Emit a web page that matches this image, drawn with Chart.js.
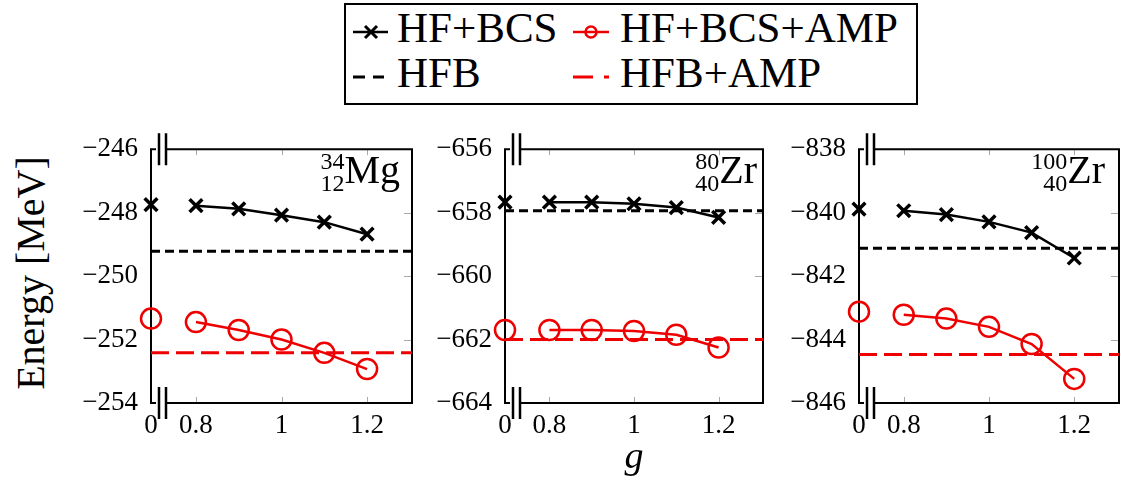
<!DOCTYPE html>
<html lang="en">
<head>
<meta charset="UTF-8">
<title>Energy vs g</title>
<style>
    body { margin: 0; background: #fff; width: 1121px; height: 484px; position: relative; overflow: hidden; font-family: 'Liberation Serif', 'Times New Roman', 'DejaVu Serif', serif; color: #000; }
    canvas { position: absolute; }
    .txt { position: absolute; white-space: nowrap; }
    .leg { font-size: 43px; line-height: 43px; }
    .nuc { position: absolute; display: flex; align-items: flex-start; white-space: nowrap; }
    .nuc .ss { display: flex; flex-direction: column; align-items: flex-end; font-size: 24px; line-height: 22px; }
    .nuc .el { font-size: 40px; line-height: 40px; }
</style>
</head>
<body>
    <canvas id="c1" width="355" height="330" style="left:61px;top:120px"></canvas>
    <canvas id="c2" width="352" height="330" style="left:415px;top:120px"></canvas>
    <canvas id="c3" width="352" height="330" style="left:769px;top:120px"></canvas>

    <!-- legend -->
    <svg width="1121" height="110" style="position:absolute;left:0;top:0">
        <rect x="345" y="4" width="572" height="100" fill="#fff" stroke="#000" stroke-width="2"/>
        <line x1="353" y1="32" x2="388" y2="32" stroke="#000" stroke-width="2.5"/>
        <path d="M365 26 L377 38 M365 38 L377 26" stroke="#000" stroke-width="3"/>
        <line x1="573" y1="32" x2="609" y2="32" stroke="#ee0000" stroke-width="2.5"/>
        <circle cx="591" cy="32" r="5.5" fill="none" stroke="#ee0000" stroke-width="2.5"/>
        <path d="M353 77 L365 77 M373 77 L384 77" stroke="#000" stroke-width="3"/>
        <path d="M573 77 L593 77 M604 77 L609 77" stroke="#ee0000" stroke-width="3"/>
    </svg>
    <div class="txt leg" style="left:397px;top:6px">HF+BCS</div>
    <div class="txt leg" style="left:620px;top:6px">HF+BCS+AMP</div>
    <div class="txt leg" style="left:397px;top:51px">HFB</div>
    <div class="txt leg" style="left:620px;top:51px">HFB+AMP</div>

    <!-- axis titles -->
    <div class="txt" style="left:31px;top:273px;font-size:40px;line-height:40px;transform:translate(-50%,-50%) rotate(-90deg)">Energy [MeV]</div>
    <div class="txt" style="left:634px;top:436px;font-size:38px;line-height:38px;font-style:italic;transform:translateX(-50%)">g</div>

    <!-- nucleus labels -->
    <div class="nuc" style="right:721px;top:150px"><span class="ss"><span>34</span><span>12</span></span><span class="el">Mg</span></div>
    <div class="nuc" style="right:364px;top:150px"><span class="ss"><span>80</span><span>40</span></span><span class="el">Zr</span></div>
    <div class="nuc" style="right:16px;top:150px"><span class="ss"><span>100</span><span>40</span></span><span class="el">Zr</span></div>

    <script src="https://cdn.jsdelivr.net/npm/chart.js"></script>
    <script>
        // pairing strength g (0 = no pairing, drawn at the broken left edge)
        const g_values = [0, 0.8, 0.9, 1.0, 1.1, 1.2];
        const x_tickValues = [0, 0.8, 1.0, 1.2];
        const x_tickLabels = ['0', '0.8', '1', '1.2'];

        // 34Mg
        const mg34_hfbcs    = [-247.75, -247.78, -247.88, -248.08, -248.30, -248.68];
        const mg34_hfbcsAmp = [-251.34, -251.45, -251.70, -252.00, -252.42, -252.93];
        const mg34_hfb      = -249.22;
        const mg34_hfbAmp   = -252.42;

        // 80Zr
        const zr80_hfbcs    = [-657.67, -657.67, -657.67, -657.72, -657.84, -658.15];
        const zr80_hfbcsAmp = [-661.70, -661.70, -661.70, -661.73, -661.85, -662.25];
        const zr80_hfb      = -657.94;
        const zr80_hfbAmp   = -662.00;

        // 100Zr
        const zr100_hfbcs    = [-839.89, -839.94, -840.06, -840.29, -840.63, -841.43];
        const zr100_hfbcsAmp = [-843.12, -843.22, -843.34, -843.60, -844.14, -845.24];
        const zr100_hfb      = -841.12;
        const zr100_hfbAmp   = -844.47;

        // broken x axis: g=0 sits on the left edge
        const X_MIN = 0.695;
        const X_MAX = 1.305;
        const RED = '#ee0000';
        const SERIF = "'Liberation Serif', 'Times New Roman', 'DejaVu Serif', serif";
        function f_gPos(g) { return g === 0 ? X_MIN : g; }

        const framePlugin = {
            id: 'frame',
            beforeDatasetsDraw(chart) {
                const ctx = chart.ctx, a = chart.chartArea;
                const xs = chart.scales.x, ys = chart.scales.y;
                ctx.save();
                // small inner ticks
                ctx.strokeStyle = '#a8a8a8';
                ctx.lineWidth = 1;
                ctx.beginPath();
                xs.ticks.forEach((t, i) => {
                    if (i === 0) return;
                    const px = Math.round(xs.getPixelForValue(t.value)) + 0.5;
                    ctx.moveTo(px, a.top); ctx.lineTo(px, a.top + 6);
                    ctx.moveTo(px, a.bottom); ctx.lineTo(px, a.bottom - 6);
                });
                ys.ticks.forEach(t => {
                    if (t.value <= ys.min || t.value >= ys.max) return;
                    const py = Math.round(ys.getPixelForValue(t.value)) + 0.5;
                    ctx.moveTo(a.right, py); ctx.lineTo(a.right - 8, py);
                });
                ctx.stroke();
                // box with gaps for the axis break
                ctx.strokeStyle = '#000';
                ctx.lineWidth = 2;
                ctx.beginPath();
                ctx.moveTo(a.left + 5, a.top); ctx.lineTo(a.left, a.top); ctx.lineTo(a.left, a.bottom); ctx.lineTo(a.left + 5, a.bottom);
                ctx.moveTo(a.left + 16, a.top); ctx.lineTo(a.right, a.top); ctx.lineTo(a.right, a.bottom); ctx.lineTo(a.left + 16, a.bottom);
                ctx.stroke();
                // break marks ||
                ctx.lineWidth = 2.5;
                ctx.beginPath();
                [a.top, a.bottom].forEach(y => {
                    [8, 15].forEach(dx => {
                        ctx.moveTo(a.left + dx, y - 16);
                        ctx.lineTo(a.left + dx, y + 16);
                    });
                });
                ctx.stroke();
                ctx.restore();
            }
        };

        function f_points(arr) {
            return g_values.map((g, i) => ({ x: f_gPos(g), y: arr[i] }));
        }

        function f_makeChart(id, bcs, amp, hfb, hfbAmp, yMin, yMax, padRight) {
            const tickFont = { family: SERIF, size: 27 };
            const hideFirst = c => c.p0DataIndex === 0 ? 'rgba(0,0,0,0)' : undefined;
            return new Chart(document.getElementById(id), {
                type: 'scatter',
                data: {
                    datasets: [
                        {
                            label: 'HF+BCS', data: f_points(bcs), showLine: true, clip: false,
                            borderColor: '#000', borderWidth: 2.5, pointStyle: 'crossRot',
                            pointRadius: 9, pointBorderWidth: 3.5, pointBorderColor: '#000',
                            segment: { borderColor: hideFirst }
                        },
                        {
                            label: 'HF+BCS+AMP', data: f_points(amp), showLine: true, clip: false,
                            borderColor: RED, borderWidth: 2.5, pointStyle: 'circle',
                            pointRadius: 10, pointBorderWidth: 2.5, pointBorderColor: RED,
                            pointBackgroundColor: 'rgba(0,0,0,0)', backgroundColor: 'rgba(0,0,0,0)',
                            segment: { borderColor: hideFirst }
                        },
                        {
                            label: 'HFB', data: [{ x: X_MIN, y: hfb }, { x: X_MAX, y: hfb }], showLine: true,
                            borderColor: '#000', borderWidth: 3, borderDash: [9, 5], pointRadius: 0
                        },
                        {
                            label: 'HFB+AMP', data: [{ x: X_MIN, y: hfbAmp }, { x: X_MAX, y: hfbAmp }], showLine: true,
                            borderColor: RED, borderWidth: 3, borderDash: [18, 7], pointRadius: 0
                        }
                    ]
                },
                options: {
                    responsive: false,
                    animation: false,
                    layout: { autoPadding: false, padding: { top: 23, right: padRight, left: 0, bottom: 0 } },
                    plugins: { legend: { display: false }, tooltip: { enabled: false } },
                    scales: {
                        x: {
                            type: 'linear', min: X_MIN, max: X_MAX,
                            afterBuildTicks: s => { s.ticks = x_tickValues.map(v => ({ value: f_gPos(v) })); },
                            afterFit: s => { s.height = 47; },
                            ticks: {
                                callback: (v, i) => x_tickLabels[i],
                                font: tickFont, color: '#000', padding: 7,
                                maxRotation: 0, autoSkip: false
                            },
                            grid: { display: false, drawTicks: false },
                            border: { display: false }
                        },
                        y: {
                            min: yMin, max: yMax,
                            afterFit: s => { s.width = 90; },
                            ticks: {
                                stepSize: 2,
                                callback: v => (v < 0 ? '\u2212' : '') + Math.abs(v),
                                font: tickFont, color: '#000', padding: 13
                            },
                            grid: { display: false, drawTicks: false },
                            border: { display: false }
                        }
                    }
                },
                plugins: [framePlugin]
            });
        }

        f_makeChart('c1', mg34_hfbcs, mg34_hfbcsAmp, mg34_hfb, mg34_hfbAmp, -254, -246, 4);
        f_makeChart('c2', zr80_hfbcs, zr80_hfbcsAmp, zr80_hfb, zr80_hfbAmp, -664, -656, 4);
        f_makeChart('c3', zr100_hfbcs, zr100_hfbcsAmp, zr100_hfb, zr100_hfbAmp, -846, -838, 2);
    </script>
</body>
</html>
